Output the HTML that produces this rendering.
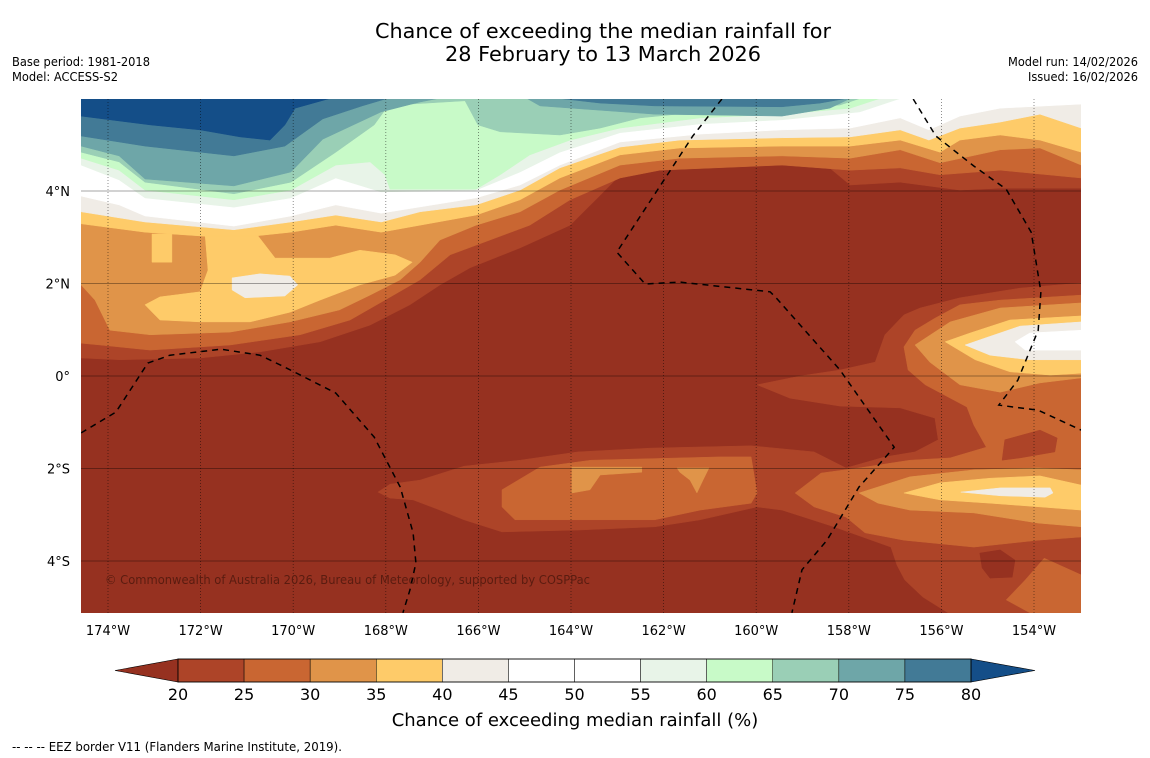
<!DOCTYPE html>
<html><head><meta charset="utf-8"><title>Chance of exceeding the median rainfall</title>
<style>
html,body{margin:0;padding:0;background:#fff;}
svg{display:block;font-family:"DejaVu Sans","Liberation Sans",sans-serif;}
</style></head>
<body>
<svg id="fig" width="1150" height="758" viewBox="0 0 1150 758" xmlns="http://www.w3.org/2000/svg">
<rect x="0" y="0" width="1150" height="758" fill="#ffffff"/>
<text x="603" y="38" font-size="20" text-anchor="middle" fill="#000" textLength="456" lengthAdjust="spacingAndGlyphs">Chance of exceeding the median rainfall for</text>
<text x="603" y="61" font-size="20" text-anchor="middle" fill="#000" textLength="316" lengthAdjust="spacingAndGlyphs">28 February to 13 March 2026</text>
<text x="12" y="66" font-size="12" fill="#000" textLength="138" lengthAdjust="spacingAndGlyphs">Base period: 1981-2018</text>
<text x="12" y="81" font-size="12" fill="#000" textLength="106" lengthAdjust="spacingAndGlyphs">Model: ACCESS-S2</text>
<text x="1138" y="66" font-size="12" fill="#000" text-anchor="end" textLength="130" lengthAdjust="spacingAndGlyphs">Model run: 14/02/2026</text>
<text x="1138" y="81" font-size="12" fill="#000" text-anchor="end" textLength="110" lengthAdjust="spacingAndGlyphs">Issued: 16/02/2026</text>
<defs><clipPath id="mapclip"><rect x="81" y="99" width="1000" height="514"/></clipPath></defs>
<g id="map" clip-path="url(#mapclip)"></g>
<g id="axes"></g>
<g id="cbar"></g>
<text x="575" y="726" font-size="18" text-anchor="middle" fill="#000">Chance of exceeding median rainfall (%)</text>
<text x="12" y="751" font-size="12" fill="#000" textLength="330" lengthAdjust="spacingAndGlyphs">--  --  -- EEZ border V11 (Flanders Marine Institute, 2019).</text>
</svg>
<script>
const lonTicks=[-174,-172,-170,-168,-166,-164,-162,-160,-158,-156,-154];
const latTicks=[4,2,0,-2,-4];
const levels=[20,25,30,35,40,45,50,55,60,65,70,75,80];
const binColors=["#ad4428","#c96632","#e09449","#fecb69","#f0ece6","#ffffff","#ffffff","#e8f4e8","#c8fac8","#9acfb6","#6ea6a8","#427a96"];
const lowColor="#963120", highColor="#144e88";
// northern contour lines (region above line >= level)
const L20=[[-174.58,0.39],[-173.74,0.35],[-172.01,0.39],[-170.72,0.52],[-169.42,0.74],[-168.34,1.1],[-167.48,1.54],[-166.83,1.97],[-166.18,2.34],[-165.1,2.77],[-164.02,3.26],[-163.37,3.91],[-162.51,4.78],[-161.65,4.93],[-159.92,4.93],[-158.62,4.67],[-157.97,4.13],[-156.89,4.19],[-155.6,4.02],[-154.73,4.06],[-152.98,4.06]];
const L25=[[-174.58,0.71],[-174.17,0.67],[-173.09,0.56],[-171.36,0.67],[-169.85,0.89],[-168.77,1.21],[-168.02,1.64],[-167.26,2.08],[-166.61,2.62],[-165.75,2.94],[-164.89,3.26],[-164.02,3.81],[-162.94,4.28],[-162.08,4.45],[-159.44,4.56],[-157.97,4.45],[-156.89,4.5],[-156.03,4.35],[-154.73,4.45],[-152.98,4.28]];
const L30=[[-174.58,1.97],[-174.28,1.64],[-173.96,0.99],[-173.09,0.89],[-171.36,0.95],[-170.07,1.17],[-169.0,1.43],[-168.34,1.75],[-167.69,2.08],[-167.26,2.46],[-166.83,2.94],[-166.05,3.26],[-165.1,3.55],[-164.24,4.02],[-162.94,4.56],[-161.65,4.71],[-159.44,4.76],[-157.97,4.71],[-156.89,4.89],[-156.03,4.61],[-154.73,4.89],[-153.87,4.93],[-152.98,4.56]];
const L35=[[-174.58,3.29],[-173.2,3.11],[-171.28,2.98],[-170.05,3.11],[-169.08,3.26],[-168.1,3.11],[-166.05,3.48],[-165.1,3.81],[-164.24,4.28],[-162.94,4.78],[-161.65,4.93],[-159.44,4.97],[-157.97,4.97],[-156.89,5.1],[-156.03,4.84],[-155.6,5.1],[-154.73,5.21],[-153.87,5.1],[-152.98,4.84]];
const L40=[[-174.58,3.55],[-173.2,3.33],[-171.28,3.16],[-170.05,3.33],[-169.08,3.48],[-168.1,3.33],[-167.26,3.55],[-166.05,3.7],[-165.1,4.02],[-164.24,4.5],[-162.94,4.95],[-161.65,5.1],[-159.44,5.15],[-157.97,5.17],[-156.89,5.32],[-156.27,5.1],[-155.6,5.36],[-154.73,5.49],[-153.87,5.66],[-152.98,5.36]];
const L45=[[-174.58,3.89],[-173.76,3.7],[-173.2,3.46],[-171.28,3.24],[-170.05,3.46],[-169.08,3.7],[-168.1,3.52],[-166.05,3.85],[-165.1,4.13],[-164.24,4.56],[-162.94,5.06],[-161.21,5.23],[-159.44,5.32],[-157.97,5.36],[-156.89,5.58],[-156.27,5.32],[-155.6,5.62],[-154.73,5.79],[-152.98,5.88]];
const L55=[[-174.58,4.56],[-173.76,4.24],[-173.2,3.85],[-171.28,3.65],[-170.05,3.85],[-169.08,4.28],[-168.1,3.98],[-166.05,4.02],[-165.1,4.41],[-164.24,4.84],[-162.94,5.26],[-161.21,5.45],[-159.44,5.54],[-157.76,5.71],[-156.89,6.0]];
const L60=[[-174.58,4.71],[-173.76,4.45],[-173.2,4.02],[-171.28,3.81],[-170.05,4.02],[-169.08,4.56],[-168.34,4.63],[-168.02,4.35],[-167.91,4.04],[-166.05,4.04],[-165.53,4.35],[-164.89,4.78],[-164.02,5.1],[-162.94,5.36],[-161.21,5.58],[-159.44,5.66],[-157.97,5.79],[-157.33,6.0]];
const L65=[[-174.58,4.84],[-173.76,4.63],[-173.2,4.19],[-171.28,3.94],[-170.05,4.19],[-169.08,4.84],[-168.25,5.43],[-168.02,5.75],[-167.8,5.86],[-166.29,5.95],[-166.01,5.43],[-165.53,5.28],[-164.24,5.21],[-163.37,5.36],[-162.51,5.58],[-161.21,5.71],[-159.44,5.75],[-158.19,5.86],[-157.76,6.0]];
const L70a=[[-174.58,4.97],[-173.76,4.76],[-173.2,4.26],[-171.28,4.11],[-170.05,4.41],[-169.36,5.12],[-168.1,5.71],[-167.28,5.92],[-166.87,6.0]];
const L70b=[[-164.95,6.0],[-164.67,5.84],[-162.19,5.66],[-159.44,5.62],[-158.41,5.79],[-157.97,6.0]];
const L75a=[[-174.58,5.19],[-173.2,4.97],[-171.28,4.76],[-170.18,4.97],[-169.36,5.56],[-168.51,5.84],[-167.97,6.0]];
const L75b=[[-164.24,6.0],[-163.37,5.9],[-162.19,5.84],[-159.44,5.82],[-158.62,5.9],[-158.06,6.0]];
const L80=[[-174.58,5.62],[-173.09,5.43],[-172.01,5.32],[-171.15,5.17],[-170.5,5.1],[-170.18,5.43],[-169.96,5.79],[-169.21,6.0]];
// closed regions
const yellowBlob=[[-171.9,3.03],[-170.76,3.03],[-170.39,2.55],[-169.21,2.55],[-168.56,2.72],[-167.8,2.62],[-167.43,2.46],[-167.8,2.18],[-168.56,1.97],[-169.42,1.64],[-170.07,1.38],[-170.93,1.17],[-172.01,1.17],[-172.88,1.21],[-173.2,1.54],[-172.88,1.71],[-172.01,1.82],[-171.84,2.29]];
const yellowColumn=[[-173.05,3.07],[-172.62,3.07],[-172.62,2.46],[-173.05,2.46]];
const beigeBlobWest=[[-171.32,2.12],[-170.72,2.21],[-170.07,2.16],[-169.9,1.97],[-170.18,1.73],[-171.04,1.69],[-171.32,1.86]];
const R20=[[-152.98,2.01],[-154.3,1.9],[-155.6,1.69],[-156.46,1.47],[-156.81,1.32],[-157.22,0.89],[-157.43,0.3],[-158.19,0.13],[-159.05,0],[-159.98,-0.19],[-159.27,-0.48],[-158.19,-0.65],[-156.89,-0.69],[-156.14,-0.91],[-156.07,-1.38],[-156.57,-1.64],[-157.22,-1.75],[-158.06,-1.99],[-158.75,-1.64],[-160.11,-1.51],[-162.29,-1.56],[-163.85,-1.64],[-165.1,-1.82],[-166.31,-1.95],[-167.26,-2.25],[-167.91,-2.34],[-168.17,-2.51],[-167.91,-2.64],[-167.41,-2.68],[-166.83,-2.9],[-166.31,-3.11],[-165.49,-3.37],[-163.81,-3.33],[-162.19,-3.26],[-161.21,-3.11],[-159.98,-2.83],[-159.44,-2.9],[-158.32,-3.26],[-157.09,-3.7],[-156.96,-4.09],[-156.79,-4.41],[-156.4,-4.78],[-155.86,-5.12],[-152.98,-5.12]];
const darkHole=[[-155.17,-3.83],[-154.73,-3.76],[-154.41,-3.98],[-154.47,-4.35],[-154.95,-4.37],[-155.12,-4.15]];
const R25east=[[-152.98,1.75],[-154.73,1.64],[-155.6,1.54],[-156.14,1.25],[-156.57,0.99],[-156.81,0.63],[-156.72,0.13],[-156.35,-0.19],[-155.45,-0.67],[-155.3,-1.06],[-155.03,-1.54],[-155.81,-1.77],[-156.68,-1.82],[-157.65,-1.97],[-158.6,-2.1],[-159.16,-2.53],[-158.75,-2.83],[-158.06,-3.05],[-157.65,-3.39],[-156.81,-3.55],[-155.3,-3.7],[-153.91,-3.55],[-152.98,-3.48]];
const R25south=[[-165.49,-2.46],[-164.67,-1.97],[-163.57,-1.82],[-160.8,-1.75],[-160.11,-1.75],[-159.98,-2.53],[-160.11,-2.75],[-161.21,-2.9],[-162.19,-3.11],[-165.21,-3.11],[-165.49,-2.83]];
const R25corner=[[-152.98,-4.3],[-153.78,-3.94],[-154.19,-4.41],[-154.6,-4.84],[-154.09,-5.12],[-152.98,-5.12]];
const R20patch=[[-154.63,-1.38],[-153.87,-1.17],[-153.5,-1.34],[-153.55,-1.64],[-154.3,-1.77],[-154.69,-1.82]];
const P30a=[[-163.98,-1.97],[-162.47,-1.97],[-162.47,-2.08],[-163.37,-2.14],[-163.59,-2.46],[-163.98,-2.53]];
const P30b=[[-161.71,-1.99],[-161.02,-1.99],[-161.15,-2.25],[-161.28,-2.53],[-161.43,-2.25],[-161.65,-2.08]];
const R30up=[[-152.98,1.58],[-154.73,1.47],[-155.81,1.17],[-156.57,0.67],[-156.25,0.3],[-155.6,-0.19],[-154.73,-0.35],[-153.87,-0.15],[-152.98,-0.04]];
const R35up=[[-152.98,1.3],[-154.52,1.21],[-155.38,0.93],[-155.92,0.74],[-155.27,0.35],[-154.52,0.09],[-153.65,0.02],[-152.98,0.06]];
const R40up=[[-152.98,1.17],[-154.3,1.08],[-155.06,0.82],[-155.49,0.67],[-154.95,0.45],[-154.09,0.35],[-152.98,0.35]];
const R45up=[[-152.98,0.99],[-154.09,0.93],[-154.41,0.74],[-154.19,0.56],[-152.98,0.56]];
const R30low=[[-157.78,-2.53],[-156.68,-2.18],[-155.3,-2.03],[-153.91,-1.99],[-152.98,-2.03],[-152.98,-3.26],[-153.91,-3.18],[-155.3,-2.96],[-156.68,-2.9],[-157.37,-2.75]];
const R35low=[[-156.81,-2.53],[-156.03,-2.31],[-154.95,-2.21],[-153.87,-2.16],[-152.98,-2.36],[-152.98,-2.9],[-153.87,-2.83],[-154.95,-2.75],[-156.03,-2.68]];
const R40low=[[-155.58,-2.51],[-154.73,-2.42],[-153.65,-2.42],[-153.59,-2.53],[-153.76,-2.62],[-154.73,-2.59]];
// EEZ borders
const eezWest=[[-174.58,-1.23],[-173.83,-0.78],[-173.14,0.28],[-172.66,0.45],[-171.56,0.58],[-170.72,0.45],[-170.18,0.19],[-169.08,-0.37],[-168.25,-1.32],[-167.69,-2.4],[-167.41,-3.39],[-167.35,-4.04],[-167.48,-4.63],[-167.63,-5.12]];
const eezMid=[[-160.74,5.99],[-161.37,5.19],[-163.01,2.68],[-162.4,1.99],[-161.65,2.03],[-159.7,1.82],[-159.57,1.69],[-158.19,0.13],[-157.02,-1.54],[-157.78,-2.4],[-158.47,-3.55],[-159.01,-4.19],[-159.23,-5.12]];
const eezEast=[[-156.61,5.99],[-156.12,5.19],[-155.3,4.54],[-154.6,4.04],[-154.06,3.11],[-153.85,1.82],[-153.91,0.99],[-154.35,-0.09],[-154.76,-0.63],[-153.91,-0.74],[-152.98,-1.17]];

const NS="http://www.w3.org/2000/svg";
function X(lon){return 108+(lon+174)*46.3;}
function Y(lat){return 376-lat*46.25;}
const TOP=6.4;
const map=document.getElementById('map');
const axes=document.getElementById('axes');
const cbar=document.getElementById('cbar');
function mk(tag,attrs,parent){const e=document.createElementNS(NS,tag);for(const k in attrs)e.setAttribute(k,attrs[k]);parent.appendChild(e);return e;}
function ptsPath(pts){return pts.map((p,i)=>(i?'L':'M')+X(p[0]).toFixed(1)+' '+Y(p[1]).toFixed(1)).join(' ');}
function northRegion(line,color,name){
  const pts=line.concat([[line[line.length-1][0]+(line[line.length-1][0]>-153.1?0.5:0),TOP],[line[0][0]-(line[0][0]<-174.5?0.5:0),TOP]]);
  const p=mk('path',{d:ptsPath(pts)+' Z',fill:color,stroke:color,'stroke-width':'0.5'},map);
  
  
}
function closedRegion(pts,color,name){
  const p=mk('path',{d:ptsPath(pts)+' Z',fill:color,stroke:color,'stroke-width':'0.5'},map);
  
  
}
const base=mk('rect',{x:81,y:99,width:1000,height:514,fill:lowColor},map);


northRegion(L20,binColors[0],'north-band-20-25');
northRegion(L25,binColors[1],'north-band-25-30');
northRegion(L30,binColors[2],'north-band-30-35');
northRegion(L35,binColors[3],'north-band-35-40');
northRegion(L40,binColors[4],'north-band-40-45');
northRegion(L45,binColors[5],'north-band-45-55');
northRegion(L55,binColors[7],'north-band-55-60');
northRegion(L60,binColors[8],'north-band-60-65');
northRegion(L65,binColors[9],'north-band-65-70');
northRegion(L70a,binColors[10],'north-band-70-75-west');
northRegion(L70b,binColors[10],'north-band-70-75-central');
northRegion(L75a,binColors[11],'north-band-75-80-west');
northRegion(L75b,binColors[11],'north-band-75-80-central');
northRegion(L80,highColor,'north-band-above-80');
closedRegion(yellowColumn,binColors[3],'west-35-40-column');
closedRegion(yellowBlob,binColors[3],'west-35-40-blob');
closedRegion(beigeBlobWest,binColors[4],'west-40-45-blob');
closedRegion(R20,binColors[0],'east-south-20-25-region');
closedRegion(darkHole,lowColor,'southeast-below-20-hole');
closedRegion(R25east,binColors[1],'east-25-30-region');
closedRegion(R25south,binColors[1],'south-25-30-band');
closedRegion(R25corner,binColors[1],'southeast-25-30-corner');
closedRegion(R20patch,binColors[0],'east-20-25-patch');
closedRegion(P30a,binColors[2],'south-30-35-patch-a');
closedRegion(P30b,binColors[2],'south-30-35-patch-b');
closedRegion(R30up,binColors[2],'east-30-35-upper');
closedRegion(R35up,binColors[3],'east-35-40-upper');
closedRegion(R40up,binColors[4],'east-40-45-upper');
closedRegion(R45up,binColors[5],'east-45-55-upper');
closedRegion(R30low,binColors[2],'east-30-35-lower');
closedRegion(R35low,binColors[3],'east-35-40-lower');
closedRegion(R40low,binColors[4],'east-40-45-lower');

// gridlines
lonTicks.forEach(lon=>{
  const l=mk('line',{x1:X(lon),x2:X(lon),y1:99,y2:613,stroke:'rgba(0,0,0,0.55)','stroke-width':'0.8','stroke-dasharray':'1 2'},map);
  
  
  const t=mk('text',{x:X(lon),y:635,'font-size':'13','text-anchor':'middle',fill:'#000'},axes);
  t.textContent=Math.abs(lon)+'°W';
  
  
});
latTicks.forEach(lat=>{
  const l=mk('line',{x1:81,x2:1081,y1:Y(lat),y2:Y(lat),stroke:'rgba(0,0,0,0.35)','stroke-width':'1'},map);
  
  
  const t=mk('text',{x:70,y:Y(lat)+5,'font-size':'13','text-anchor':'end',fill:'#000'},axes);
  t.textContent=lat===0?'0°':Math.abs(lat)+'°'+(lat>0?'N':'S');
  
  
});
// EEZ dashed
[[eezWest,'eez-border-west'],[eezMid,'eez-border-central'],[eezEast,'eez-border-east']].forEach(([pts,nm])=>{
  const p=mk('path',{d:ptsPath(pts),fill:'none',stroke:'#000','stroke-width':'1.5','stroke-dasharray':'6 5'},map);
  
  
});
const cr=mk('text',{x:105,y:584,'font-size':'12',fill:'#5a1c10',textLength:'485',lengthAdjust:'spacingAndGlyphs'},map);
cr.textContent='© Commonwealth of Australia 2026, Bureau of Meteorology, supported by COSPPac';



// colorbar
const cbX0=178,cbX1=971,cbY=659,cbH=23;
const segW=(cbX1-cbX0)/binColors.length;
const lt=mk('polygon',{points:`${cbX0},${cbY} ${cbX0},${cbY+cbH} 115,${cbY+cbH/2}`,fill:lowColor,stroke:'#000','stroke-width':'0.6'},cbar);


const rt=mk('polygon',{points:`${cbX1},${cbY} ${cbX1},${cbY+cbH} 1035,${cbY+cbH/2}`,fill:highColor,stroke:'#000','stroke-width':'0.6'},cbar);


binColors.forEach((c,i)=>{
  const r=mk('rect',{x:cbX0+i*segW,y:cbY,width:segW,height:cbH,fill:c,stroke:'#000','stroke-width':'0.5'},cbar);
  
  
});
const fr=mk('rect',{x:cbX0,y:cbY,width:cbX1-cbX0,height:cbH,fill:'none',stroke:'#000','stroke-width':'0.8'},cbar);


levels.forEach((v,i)=>{
  const t=mk('text',{x:cbX0+i*segW,y:700,'font-size':'16','text-anchor':'middle',fill:'#000'},cbar);
  t.textContent=v;
  
  
});
</script>
</body></html>
